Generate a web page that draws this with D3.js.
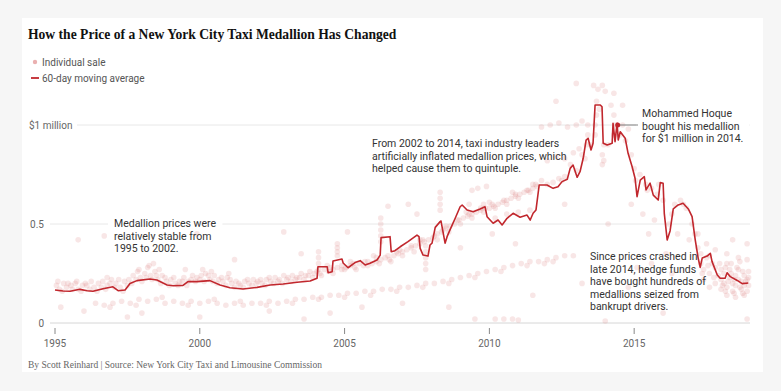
<!DOCTYPE html>
<html>
<head>
<meta charset="utf-8">
<script src="https://cdn.jsdelivr.net/npm/d3@7"></script>
<style>
  body { margin: 0; background: #f6f6f6; }
  svg { display: block; }
  text { font-family: Roboto, "Liberation Sans", sans-serif; }
</style>
</head>
<body>
<div id="chart"></div>
<script>
// 60-day moving average (year, $ millions)
const avgYears = [1995.00,1995.28,1995.52,1995.86,1996.11,1996.31,1996.66,1997.00,1997.18,1997.42,1997.59,1997.83,1998.28,1998.52,1998.87,1999.08,1999.42,1999.59,1999.90,2000.35,2000.70,2001.04,2001.49,2001.98,2002.43,2002.88,2003.36,2003.81,2004.05,2004.08,2004.40,2004.43,2004.57,2004.60,2004.91,2004.95,2005.12,2005.36,2005.54,2005.71,2005.88,2006.12,2006.23,2006.26,2006.57,2006.61,2006.74,2006.92,2007.19,2007.50,2007.57,2007.61,2007.71,2007.88,2007.95,2008.02,2008.13,2008.30,2008.33,2008.47,2008.54,2008.64,2008.82,2008.99,2009.06,2009.23,2009.44,2009.68,2009.85,2009.92,2010.13,2010.30,2010.44,2010.61,2010.82,2011.06,2011.30,2011.41,2011.51,2011.61,2011.72,2011.99,2012.20,2012.37,2012.51,2012.69,2012.79,2012.89,2013.03,2013.13,2013.24,2013.34,2013.41,2013.51,2013.58,2013.65,2013.83,2013.89,2013.93,2014.07,2014.24,2014.27,2014.34,2014.41,2014.45,2014.52,2014.69,2014.79,2014.93,2015.03,2015.10,2015.21,2015.35,2015.41,2015.55,2015.66,2015.83,2015.90,2016.00,2016.04,2016.14,2016.24,2016.35,2016.52,2016.69,2016.87,2017.00,2017.11,2017.21,2017.28,2017.35,2017.52,2017.63,2017.69,2017.87,2017.97,2018.14,2018.21,2018.32,2018.56,2018.73,2018.94];
const avgPrices = [0.167,0.162,0.160,0.170,0.163,0.160,0.173,0.183,0.163,0.167,0.200,0.214,0.222,0.217,0.192,0.188,0.190,0.209,0.209,0.214,0.192,0.178,0.172,0.180,0.192,0.197,0.206,0.212,0.226,0.284,0.284,0.254,0.259,0.313,0.323,0.303,0.279,0.305,0.315,0.293,0.302,0.318,0.343,0.431,0.436,0.360,0.365,0.385,0.411,0.444,0.436,0.377,0.343,0.338,0.394,0.403,0.483,0.512,0.515,0.403,0.436,0.470,0.529,0.587,0.596,0.571,0.562,0.576,0.587,0.537,0.504,0.520,0.495,0.529,0.554,0.534,0.545,0.520,0.554,0.571,0.697,0.697,0.680,0.688,0.714,0.726,0.781,0.798,0.736,0.764,0.832,0.924,0.933,0.874,0.908,1.101,1.101,1.092,0.908,0.899,0.908,1.009,0.916,1.009,0.924,0.966,0.933,0.857,0.789,0.731,0.638,0.722,0.739,0.672,0.706,0.646,0.621,0.709,0.706,0.554,0.419,0.465,0.576,0.596,0.605,0.576,0.537,0.419,0.328,0.281,0.328,0.338,0.352,0.310,0.242,0.226,0.226,0.254,0.234,0.215,0.199,0.202];

// individual sales [year, $ millions]
const sales = [
  [1995.05,.19],[1995.15,.17],[1995.3,.2],[1995.4,.18],[1995.55,.19],[1995.7,.2],[1995.8,.17],[1995.95,.19],[1996.05,.2],[1996.2,.17],[1996.35,.18],[1996.5,.2],[1996.65,.21],[1996.8,.19],[1996.95,.22],[1997.1,.2],[1997.25,.18],[1997.4,.21],[1997.55,.22],[1997.7,.24],[1997.85,.26],[1997.95,.23],[1998.1,.25],[1998.2,.28],[1998.3,.24],[1998.45,.26],[1998.55,.22],[1998.7,.24],[1998.85,.21],[1999.0,.22],[1999.15,.2],[1999.3,.21],[1999.45,.23],[1999.6,.21],[1999.75,.24],[1999.9,.23],[2000.05,.24],[2000.2,.25],[2000.35,.22],[2000.5,.24],[2000.65,.22],[2000.8,.21],[2000.95,.23],[2001.1,.2],[2001.25,.21],[2001.4,.19],[2001.55,.21],[2001.7,.2],[2001.85,.22],[2002.0,.21],[2002.15,.2],[2002.3,.22],[2002.45,.21],[2002.6,.23],[2002.75,.22],[2002.9,.24],[2003.05,.23],[2003.2,.24],[2003.35,.23],[2003.5,.25],[2003.65,.24],[2003.8,.26],[2003.95,.25],
  [1995.1,.21],[1995.25,.16],[1995.45,.2],[1995.6,.17],[1995.75,.21],[1995.9,.16],[1996.1,.19],[1996.25,.21],[1996.45,.16],[1996.6,.18],[1996.75,.17],[1996.9,.2],[1997.05,.18],[1997.2,.22],[1997.35,.16],[1997.5,.19],[1997.65,.2],[1997.8,.22],[1998.0,.21],[1998.15,.23],[1998.35,.22],[1998.5,.24],[1998.65,.2],[1998.8,.23],[1998.95,.19],[1999.1,.23],[1999.25,.19],[1999.4,.21],[1999.55,.19],[1999.7,.22],[1999.85,.21],[2000.0,.22],[2000.15,.21],[2000.3,.24],[2000.45,.21],[2000.6,.2],[2000.75,.23],[2000.9,.19],[2001.05,.22],[2001.2,.18],[2001.35,.2],[2001.5,.18],[2001.65,.22],[2001.8,.19],[2001.95,.2],[2002.1,.22],[2002.25,.19],[2002.4,.23],[2002.55,.2],[2002.7,.21],[2002.85,.2],[2003.0,.22],[2003.15,.21],[2003.3,.22],[2003.45,.23],[2003.6,.22],[2003.75,.24],[2003.9,.23],
  [1998.25,.29],[1998.4,.3],[1998.6,.27],[1997.9,.27],[1999.5,.27],[2000.1,.27],[2000.4,.26],[2001.0,.25],[1996.8,.23],
  [2004.05,.26],[2004.15,.25],[2004.3,.27],[2004.45,.26],[2004.6,.27],[2004.75,.28],[2004.9,.27],[2005.05,.28],[2005.2,.29],[2005.35,.28],[2005.5,.3],[2005.65,.29],[2005.8,.31],[2005.95,.3],[2006.1,.31],[2006.25,.32],[2006.4,.33],[2006.55,.32],[2006.7,.34],[2006.85,.35],[2007.0,.36],[2007.15,.37],[2007.3,.38],[2007.45,.39],[2007.6,.4],[2007.75,.41],[2007.9,.42],[2008.05,.43],[2008.2,.45],[2008.35,.46],[2008.5,.48],[2008.65,.49],[2008.8,.5],[2008.95,.52],[2009.1,.53],[2009.25,.54],[2009.4,.55],[2009.55,.56],[2009.7,.57],[2009.85,.58],[2010.0,.58],[2010.15,.59],[2010.3,.6],[2010.45,.61],[2010.6,.62],[2010.75,.63],[2010.9,.64],[2011.05,.65],[2011.2,.66],[2011.35,.67],[2011.5,.68],[2011.65,.69],
  [2004.1,.27],[2004.5,.28],[2004.9,.29],[2005.3,.3],[2005.7,.31],[2006.1,.33],[2006.5,.34],[2006.9,.37],[2007.3,.39],[2007.7,.42],[2008.1,.44],[2008.5,.49],[2008.9,.52],[2009.3,.55],[2009.7,.58],[2010.1,.6],[2010.5,.62],[2010.9,.65],[2011.3,.67],
  [2004.2,.24],[2004.6,.25],[2005.0,.27],[2005.4,.27],[2005.8,.29],[2006.2,.3],[2006.6,.31],[2007.0,.34],[2007.4,.36],[2007.8,.39],[2008.2,.42],[2008.6,.46],[2009.0,.5],[2009.4,.53],[2009.8,.56],[2010.2,.58],[2010.6,.6],[2011.0,.63],[2011.4,.66],[2011.6,.7],[2004.4,.29],[2005.2,.31],[2006.0,.34],[2006.8,.36],[2007.6,.42],[2008.4,.47],[2009.2,.56],[2010.0,.61],[2010.8,.66],[2011.5,.7],
  [1996.4,.1],[1996.7,.09],[1997.0,.1],[1997.3,.11],[1997.6,.1],[1997.9,.12],[1998.2,.11],[1998.5,.12],[1998.8,.1],[1999.1,.11],[1999.4,.1],[1999.7,.11],[2000.0,.1],[2000.3,.11],[2000.6,.1],[2000.9,.09],[2001.2,.1],[2001.5,.09],[2001.8,.1],[2002.1,.1],[2002.4,.11],[2002.7,.1],[2003.0,.11],[2003.3,.12],[2003.6,.12],[2003.9,.13],[2004.2,.13],[2004.5,.14],[2004.8,.14],[2005.1,.15],[2005.4,.15],[2005.7,.16],[2006.0,.16],[2006.3,.17],[2006.6,.17],[2006.9,.18],[2007.2,.18],[2007.5,.19],[2007.8,.2],[2008.1,.2],[2008.4,.21],[2008.7,.22],[2009.0,.23],[2009.3,.24],[2009.6,.25],[2009.9,.26],[2010.2,.27],[2010.5,.28],[2010.8,.29],[2011.1,.3],[2011.4,.31],[2011.7,.31],[2012.0,.32],[2012.3,.33],[2012.6,.34],[2012.9,.34],
  [1996.9,.08],[1997.8,.09],[1998.7,.13],[1999.6,.09],[2000.5,.12],[2001.4,.11],[2002.3,.09],[2003.2,.1],[2004.1,.12],[2005.0,.13],[2005.9,.14],[2006.8,.16],[2007.7,.18],[2008.6,.2],[2009.5,.23],[2010.4,.26],[2011.3,.29],[2012.2,.31],
  [2004.1,.3],[2004.1,.33],[2004.1,.36],[2004.75,.36],[2004.75,.38],[2004.75,.4],[2004.75,.34],[2006.25,.44],[2006.25,.47],[2006.25,.5],[2006.25,.53],[2006.25,.41],[2007.8,.27],[2007.8,.3],[2007.8,.33],[2007.8,.36],[2008.3,.57],[2008.3,.6],[2008.3,.63],[2008.3,.66],[2009.4,.67],[2009.6,.68],[2009.9,.69],
  [2013.65,.95],[2013.65,1.0],[2013.7,1.05],[2013.7,1.12],[2013.75,1.18],[2013.9,.8],[2013.9,.85],[2013.95,.9],[2013.95,.82],[2014.0,1.17],[2014.2,1.1],[2014.3,1.05],[2014.35,1.0],[2014.3,.95],
  [2011.8,.99],[2012.1,1.0],[2012.4,1.01],[2012.7,.99],[2013.0,1.0],[2013.2,1.02],[2013.4,1.0],[2014.6,1.0],[2014.8,.98],
  [2012.0,.82],[2012.3,.84],[2012.6,.83],[2012.9,.86],[2013.1,.88],[2013.35,.9],
  [2013.0,1.21],[2013.6,1.2],[2013.9,1.2],[2014.3,1.16],[2012.3,1.12],[2014.6,1.1],
  [2011.8,.72],[2012.0,.7],[2012.2,.71],[2012.4,.73],[2012.6,.74],[2012.8,.8],[2013.0,.77],[2013.2,.85],[2013.4,.95],[2013.5,.9],
  [2009.3,.6],[2009.8,.6],[2010.2,.53],[2010.6,.55],[2011.0,.56],[2011.4,.57],
  [2014.7,.92],[2014.9,.85],[2015.0,.78],[2015.2,.75],[2015.4,.7],[2015.6,.68],[2015.8,.65],[2016.0,.62],[2015.3,.55],[2015.7,.52],[2016.2,.5],[2016.4,.6],[2016.6,.62],[2016.8,.58],[2017.0,.5],[2016.5,.45],[2016.9,.42],[2017.2,.38],[2014.9,.6],[2015.5,.45],[2016.1,.35],
  [2014.1,.9],[2014.5,.95],[2015.05,.72],[2015.45,.67],[2015.85,.7],[2016.3,.55],[2016.7,.6],[2017.1,.45],[2017.3,.35],[2017.6,.34],[2012.5,.72],[2013.3,.83],[2013.8,1.08],
  [2015.1,.28],[2015.6,.3],[2016.3,.25],[2014.8,.18],[2016.0,.05],
  [2017.3,.3],[2017.4,.27],[2017.5,.33],[2017.6,.25],[2017.7,.3],[2017.8,.28],[2017.9,.24],[2018.0,.22],[2018.0,.27],[2018.1,.2],[2018.1,.25],[2018.2,.3],[2018.2,.18],[2018.3,.23],[2018.3,.27],[2018.4,.2],[2018.4,.16],[2018.5,.24],[2018.5,.19],[2018.6,.22],[2018.6,.27],[2018.7,.17],[2018.7,.21],[2018.8,.24],[2018.8,.19],[2018.9,.22],[2018.9,.16],[2018.95,.26],[2017.4,.22],[2017.6,.18],[2017.8,.2],[2018.0,.17],[2018.2,.14],[2018.5,.13],[2018.8,.14],[2017.5,.4],[2017.8,.37],[2018.2,.35],[2018.6,.33],[2018.9,.32],[2017.2,.45],[2018.4,.42],[2018.9,.4],
  [2017.35,.25],[2017.55,.29],[2017.75,.23],[2017.95,.3],[2018.05,.19],[2018.15,.28],[2018.25,.21],[2018.35,.25],[2018.45,.22],[2018.55,.28],[2018.65,.18],[2018.75,.26],[2018.85,.21],[2018.95,.19],[2018.15,.16],[2018.45,.15],[2018.75,.15],[2018.95,.23],[2018.35,.3],[2018.65,.31],
  [2018.9,.02],[2014.0,.01],[2010.2,.02],[2010.5,.02],[2010.8,.02],[2011.0,.015],[2009.5,.02],[2003.6,.02],[1997.5,.03],[1998.0,.05],[2000.0,.03],[2002.4,.06],[2004.5,.05],
  [1995.8,.42],[1996.7,.44],[1999.9,.45],[2001.2,.32],[2002.9,.46],[2003.5,.35],[2005.1,.46],[2006.5,.59],[2007.5,.55],[2007.2,.6],[2009.0,.38],[2010.1,.45],[2010.9,.4],[2011.9,.3],[2012.6,.6],[2014.1,.5],[2013.2,.2],[2005.6,.08],[2007.0,.1],[2008.6,.08],[2011.5,.14],[1996.0,.06],[1995.2,.08]
];

const yearTicks = [1995, 2000, 2005, 2010, 2015];
const priceTicks = [0, 0.5, 1];
const priceLabels = ["0", "0.5", "$1 million"];
const hoqueSale = [2014.43, 1.0];

const title = "How the Price of a New York City Taxi Medallion Has Changed";
const credit = "By Scott Reinhard | Source: New York City Taxi and Limousine Commission";
const notes = [
  {x: 114, y: 227, lines: ["Medallion prices were", "relatively stable from", "1995 to 2002."]},
  {x: 372, y: 147, lines: ["From 2002 to 2014, taxi industry leaders", "artificially inflated medallion prices, which", "helped cause them to quintuple."]},
  {x: 642, y: 117, lines: ["Mohammed Hoque", "bought his medallion", "for $1 million in 2014."]},
  {x: 590, y: 260, lines: ["Since prices crashed in", "late 2014, hedge funds", "have bought hundreds of", "medallions seized from", "bankrupt drivers."]}
];

const W = 781, H = 391;
const red = "#c1272d";

const svg = d3.select("#chart").append("svg")
    .attr("width", W).attr("height", H);

svg.append("rect").attr("x", 22).attr("y", 18).attr("width", 741).attr("height", 354).attr("fill", "#fff");

const x = d3.scaleLinear().domain([1995, 2019]).range([55, 750]);
const y = d3.scaleLinear().domain([0, 1]).range([323, 125]);

// title + legend
svg.append("text").attr("x", 28).attr("y", 39)
    .style("font-family", "'Liberation Serif', serif").style("font-weight", "bold")
    .style("font-size", "13.6px").attr("fill", "#111").text(title);

svg.append("circle").attr("cx", 35).attr("cy", 62).attr("r", 2.2).attr("fill", "#eab0b0");
svg.append("text").attr("x", 42).attr("y", 65.5).style("font-size", "10px").attr("fill", "#555").text("Individual sale");
svg.append("line").attr("x1", 31).attr("x2", 39).attr("y1", 78).attr("y2", 78).attr("stroke", red).attr("stroke-width", 1.8);
svg.append("text").attr("x", 42).attr("y", 81.5).style("font-size", "10px").attr("fill", "#555").text("60-day moving average");

// gridlines
const grid = svg.append("g");
grid.selectAll("line").data(priceTicks).join("line")
    .attr("x1", (d, i) => i == 2 ? 77 : 50).attr("x2", 750)
    .attr("y1", d => y(d)).attr("y2", d => y(d))
    .attr("stroke", (d, i) => i == 0 ? "#d6d6d6" : "#e8e8e8").attr("stroke-width", 1);
grid.selectAll("text").data(priceTicks).join("text")
    .attr("x", (d, i) => i == 2 ? 29 : 44)
    .attr("text-anchor", (d, i) => i == 2 ? "start" : "end")
    .attr("y", d => y(d) + 3.5)
    .style("font-size", "10px").attr("fill", "#666")
    .text((d, i) => priceLabels[i]);

// x axis
const xAxis = svg.append("g");
xAxis.selectAll("line").data(yearTicks).join("line")
    .attr("x1", d => x(d)).attr("x2", d => x(d)).attr("y1", 328).attr("y2", 334)
    .attr("stroke", "#888");
xAxis.selectAll("text").data(yearTicks).join("text")
    .attr("x", d => x(d)).attr("y", 347).attr("text-anchor", "middle")
    .style("font-size", "10px").attr("fill", "#666").text(d => d);

// annotation backgrounds (break gridlines)
const bgG = svg.append("g");

// sales dots
svg.append("g").selectAll("circle").data(sales).join("circle")
    .attr("cx", d => x(d[0])).attr("cy", d => y(d[1])).attr("r", 2.8)
    .attr("fill", "#d86a6a").attr("fill-opacity", 0.17);

// moving average line
svg.append("path")
    .datum(avgYears.map((d, i) => [d, avgPrices[i]]))
    .attr("fill", "none").attr("stroke", red).attr("stroke-width", 1.6)
    .attr("stroke-linejoin", "round")
    .attr("d", d3.line().x(d => x(d[0])).y(d => y(d[1])));

// Hoque pointer
svg.append("line").attr("x1", x(hoqueSale[0])).attr("x2", 638)
    .attr("y1", y(hoqueSale[1])).attr("y2", y(hoqueSale[1])).attr("stroke", "#666").attr("stroke-width", 0.8);
svg.append("circle").attr("cx", x(hoqueSale[0])).attr("cy", y(hoqueSale[1])).attr("r", 2.5).attr("fill", red);

const noteLayer = svg.append("g");
notes.forEach(n => {
    const t = noteLayer.append("text").attr("x", n.x).attr("y", n.y)
        .style("font-size", "10.5px").attr("fill", "#333");
    t.selectAll("tspan").data(n.lines).join("tspan")
        .attr("x", n.x).attr("dy", (d, i) => i == 0 ? 0 : 12.5).text(d => d);
    const b = t.node().getBBox();
    bgG.append("rect").attr("x", b.x - 6).attr("y", b.y - 2).attr("width", b.width + 12).attr("height", b.height + 4)
        .attr("fill", "#fff");
});

// credit
svg.append("text").attr("x", 28).attr("y", 368)
    .style("font-family", "'Liberation Serif', serif").style("font-size", "9.5px")
    .attr("fill", "#666").text(credit);
</script>
</body>
</html>
